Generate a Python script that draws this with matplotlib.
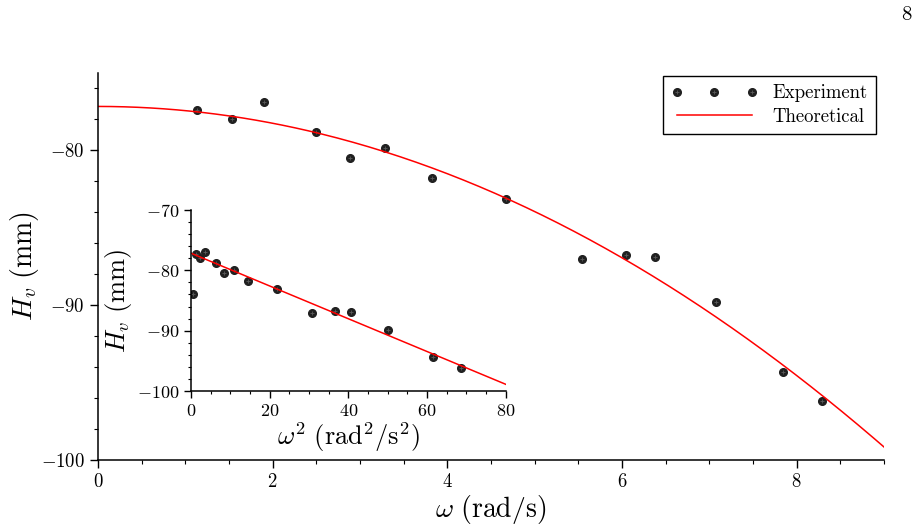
import numpy as np
import matplotlib
matplotlib.use("Agg")
import matplotlib.pyplot as plt
from matplotlib.ticker import MultipleLocator
from matplotlib.patches import Rectangle
from matplotlib.legend_handler import HandlerTuple

plt.rcParams["font.family"] = "serif"
plt.rcParams["font.serif"] = ["cmr10", "DejaVu Serif"]
plt.rcParams["mathtext.fontset"] = "cm"
plt.rcParams["axes.formatter.use_mathtext"] = True

# measured points: angular speed (rad/s) and vortex depth H_v (mm)
omega = [0.71, 1.13, 1.54, 1.90, 2.50, 2.89, 3.29, 3.82, 4.67,
         5.54, 6.05, 6.38, 7.08, 7.84, 8.29]
H_v = [-83.9, -77.37, -77.94, -76.88, -78.82, -80.49, -79.87, -81.76, -83.14,
       -87.03, -86.73, -86.90, -89.81, -94.30, -96.19]

# theoretical parabola H = H0 - slope * omega^2
H0 = -77.16
slope = 0.2716

omega = np.array(omega)
H_v = np.array(H_v)

fig = plt.figure(figsize=(9.17, 5.31), dpi=100)
W, Hpx = 917, 531

def fig_rect(x0, y0, x1, y1):
    """pixel box (top-left origin) -> figure fraction [l, b, w, h]"""
    return [x0 / W, 1 - y1 / Hpx, (x1 - x0) / W, (y1 - y0) / Hpx]

def exp_points(a, x, y):
    # dark dot with a faint cross, like the original markers
    dot, = a.plot(x, y, "o", color="#202020", ms=5.5, ls="none")
    cross, = a.plot(x, y, "+", color="#5a5a5a", ms=3.5, mew=0.6, ls="none")
    return dot, cross

ax = fig.add_axes(fig_rect(98, 73, 884, 460))

w_fit = np.linspace(0, 9, 300)
exp_h = exp_points(ax, omega, H_v)
th_line, = ax.plot(w_fit, H0 - slope * w_fit**2, color="red", lw=1.1)

ax.set_xlim(0, 9)
ax.set_ylim(-100, -75)
ax.xaxis.set_major_locator(MultipleLocator(2))
ax.xaxis.set_minor_locator(MultipleLocator(0.5))
ax.yaxis.set_major_locator(MultipleLocator(10))
ax.yaxis.set_minor_locator(MultipleLocator(2))
for s in ["top", "right"]:
    ax.spines[s].set_visible(False)
for s in ["left", "bottom"]:
    ax.spines[s].set_linewidth(1.1)
ax.tick_params(which="major", length=6, width=1, labelsize=13.5)
ax.tick_params(which="minor", length=3, width=0.8)
ax.set_xlabel(r"$\omega\ (\mathrm{rad/s})$", fontsize=20, labelpad=1)
ax.set_ylabel(r"$H_v\ (\mathrm{mm})$", fontsize=20, labelpad=0)

leg = fig.legend([exp_h, th_line], ["Experiment", "Theoretical"],
                 handler_map={tuple: HandlerTuple(ndivide=1)},
                 loc="upper right", bbox_to_anchor=(876 / W, 1 - 76 / Hpx),
                 numpoints=3, handlelength=4.6, handletextpad=0.8,
                 fancybox=False, edgecolor="black", fontsize=13.5,
                 borderaxespad=0, framealpha=1, labelspacing=0.3,
                 borderpad=0.45)
leg.get_frame().set_linewidth(1.0)

# white backdrop for the inset, as in the pasted-in figure
fig.patches.append(Rectangle((102 / W, 1 - 457 / Hpx), (512 - 102) / W, (457 - 204) / Hpx,
                             transform=fig.transFigure, facecolor="white",
                             edgecolor="none", zorder=2))

ins = fig.add_axes(fig_rect(191, 210, 505.7, 391))
ins.set_zorder(3)
w2 = np.linspace(0, 80, 100)
exp_points(ins, omega**2, H_v)
ins.plot(w2, H0 - slope * w2, color="red", lw=1.1)
ins.set_xlim(0, 80)
ins.set_ylim(-100, -70)
ins.xaxis.set_major_locator(MultipleLocator(20))
ins.xaxis.set_minor_locator(MultipleLocator(5))
ins.yaxis.set_major_locator(MultipleLocator(10))
ins.yaxis.set_minor_locator(MultipleLocator(2))
for s in ["top", "right"]:
    ins.spines[s].set_visible(False)
for s in ["left", "bottom"]:
    ins.spines[s].set_linewidth(1.1)
ins.tick_params(which="major", length=5, width=1, labelsize=13)
ins.tick_params(which="minor", length=2.5, width=0.8)
ins.set_xlabel(r"$\omega^2\ (\mathrm{rad^2/s^2})$", fontsize=19, labelpad=1)
ins.set_ylabel(r"$H_v\ (\mathrm{mm})$", fontsize=19, labelpad=2)

# page number
fig.text(906 / W, 1 - 15 / Hpx, "8", fontsize=15, ha="center", va="center")

fig.savefig("out.png", dpi=100)
